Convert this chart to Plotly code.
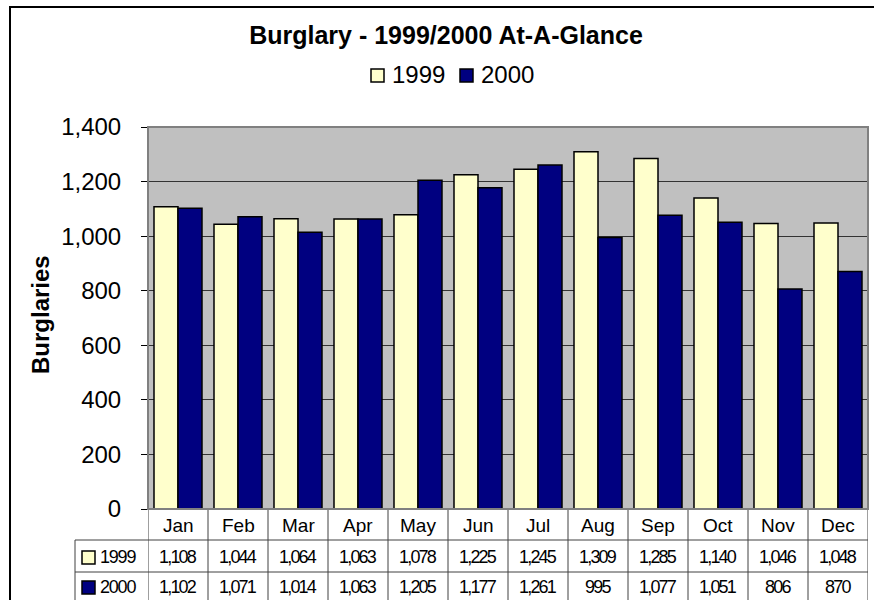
import plotly.graph_objects as go

months = ["Jan", "Feb", "Mar", "Apr", "May", "Jun", "Jul", "Aug", "Sep", "Oct", "Nov", "Dec"]
series_names = ["1999", "2000"]
values_1999 = [1108, 1044, 1064, 1063, 1078, 1225, 1245, 1309, 1285, 1140, 1046, 1048]
values_2000 = [1102, 1071, 1014, 1063, 1205, 1177, 1261, 995, 1077, 1051, 806, 870]
y_ticks = [0, 200, 400, 600, 800, 1000, 1200, 1400]

colors = ["#FFFFCC", "#000080"]
FONT = "Liberation Sans, Arial, sans-serif"

W, H = 874, 600
L, R, T, B = 148, 6, 127, 91
PW, PH = W - L - R, H - T - B


def px(x):
    return (x - L) / PW


def py(y):
    return (H - B - y) / PH


def tight(s, sp=-1.8):
    return f'<span style="letter-spacing:{sp}px">{s}</span>'


fig = go.Figure()
for name, vals, col in zip(series_names, [values_1999, values_2000], colors):
    fig.add_trace(go.Bar(
        x=list(range(len(months))), y=vals, name=name,
        marker=dict(color=col, line=dict(color="black", width=1.5)),
        showlegend=False, hoverinfo="x+y"))

shapes = []
annotations = []

# outer chart border
shapes.append(dict(type="rect", xref="paper", yref="paper",
                   x0=px(10), x1=px(885), y0=py(7), y1=py(615),
                   line=dict(color="black", width=2), fillcolor="rgba(0,0,0,0)", layer="below"))

# top legend
leg_y = 75
leg_items = [(371, series_names[0], colors[0]), (460, series_names[1], colors[1])]
for x0, name, col in leg_items:
    shapes.append(dict(type="rect", xref="paper", yref="paper",
                       x0=px(x0), x1=px(x0 + 13), y0=py(leg_y - 6), y1=py(leg_y + 7),
                       fillcolor=col, line=dict(color="black", width=1.5)))
    annotations.append(dict(xref="paper", yref="paper", x=px(x0 + 19), y=py(leg_y),
                            text=name, showarrow=False, xanchor="left", yanchor="middle",
                            font=dict(family=FONT, size=24, color="black")))

# data table
n = len(months)
for yy in [540, 572]:
    shapes.append(dict(type="line", xref="paper", yref="paper",
                       x0=px(75), x1=1, y0=py(yy), y1=py(yy),
                       line=dict(color="#404040", width=1)))
for i in range(n + 1):
    shapes.append(dict(type="line", xref="x", yref="paper",
                       x0=i - 0.5, x1=i - 0.5, y0=py(509), y1=py(615),
                       line=dict(color="#404040", width=1)))
shapes.append(dict(type="line", xref="paper", yref="paper",
                   x0=px(75), x1=px(75), y0=py(540), y1=py(615),
                   line=dict(color="#404040", width=1)))

for i, m in enumerate(months):
    annotations.append(dict(xref="x", yref="paper", x=i, y=py(525), text=m,
                            showarrow=False, xanchor="center", yanchor="middle",
                            font=dict(family=FONT, size=19, color="black")))
row_centers = [557, 587]
for r, (name, vals, col) in enumerate(zip(series_names, [values_1999, values_2000], colors)):
    yc = row_centers[r]
    shapes.append(dict(type="rect", xref="paper", yref="paper",
                       x0=px(82), x1=px(95), y0=py(yc - 6), y1=py(yc + 7),
                       fillcolor=col, line=dict(color="black", width=1.5)))
    annotations.append(dict(xref="paper", yref="paper", x=px(98), y=py(yc), text=tight(name, -1.2),
                            showarrow=False, xanchor="left", yanchor="middle",
                            font=dict(family=FONT, size=18, color="black")))
    for i, v in enumerate(vals):
        annotations.append(dict(xref="x", yref="paper", x=i, y=py(yc), text=tight(f"{v:,}"),
                                showarrow=False, xanchor="center", yanchor="middle",
                                font=dict(family=FONT, size=18, color="black")))

# y axis title
annotations.append(dict(xref="paper", yref="paper", x=px(40), y=py(315), text="<b>Burglaries</b>",
                        showarrow=False, textangle=-90, xanchor="center", yanchor="middle",
                        font=dict(family=FONT, size=24, color="black")))

# plot area border (gray)
shapes.append(dict(type="rect", xref="paper", yref="paper", x0=0, x1=1, y0=0, y1=1,
                   line=dict(color="#808080", width=2), fillcolor="rgba(0,0,0,0)", layer="above"))

fig.update_layout(
    width=W, height=H,
    margin=dict(l=L, r=R, t=T, b=B, pad=0),
    paper_bgcolor="white", plot_bgcolor="#C0C0C0",
    title=dict(text="<b>Burglary - 1999/2000 At-A-Glance</b>", x=446 / W, xref="container",
               y=1 - 35 / H, yref="container", xanchor="center", yanchor="middle",
               font=dict(family=FONT, size=25, color="black")),
    barmode="group", bargap=0.2, bargroupgap=0,
    xaxis=dict(range=[-0.5, n - 0.5], showticklabels=False, showgrid=False, zeroline=False,
               showline=False, ticks="", fixedrange=True),
    yaxis=dict(range=[0, 1400], tickvals=y_ticks, tickformat=",d", ticks="outside", ticklen=6,
               tickcolor="black", showline=True, linecolor="black", linewidth=1,
               showgrid=True, gridcolor="#333333", gridwidth=1, zeroline=True,
               zerolinecolor="black", zerolinewidth=1, ticklabelstandoff=15,
               tickfont=dict(family=FONT, size=24, color="black")),
    shapes=shapes, annotations=annotations,
)

fig.write_html("out.html", config={"displayModeBar": False},
               post_script="document.body.style.margin='0px';document.body.style.overflow='hidden';")
